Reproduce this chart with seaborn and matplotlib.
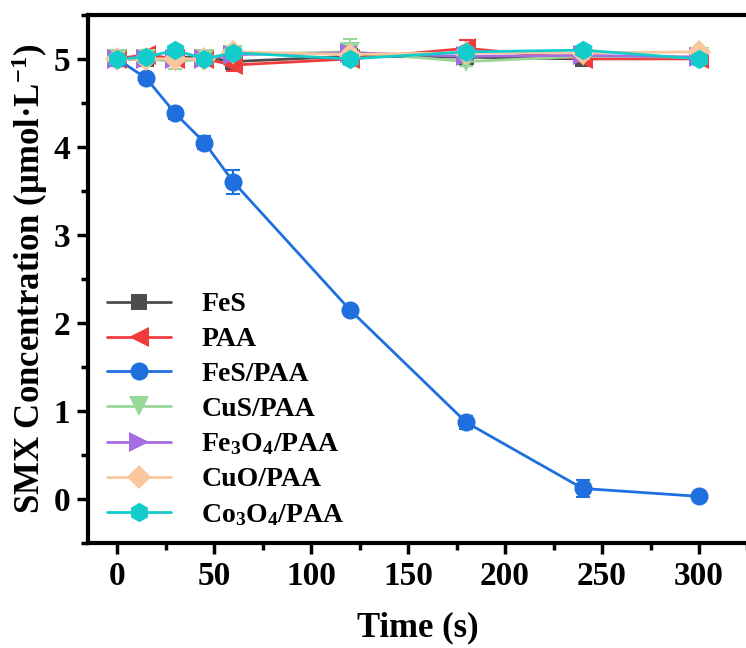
import numpy as np
import pandas as pd
import matplotlib
matplotlib.use("Agg")
import matplotlib.pyplot as plt
import seaborn as sns
from matplotlib.ticker import MultipleLocator

time = [0, 15, 30, 45, 60, 120, 180, 240, 300]
series_names = ["FeS", "PAA", "FeS/PAA", "CuS/PAA", "Fe$_3$O$_4$/PAA", "CuO/PAA", "Co$_3$O$_4$/PAA"]

fes = [5.00, 5.00, 5.02, 5.02, 4.97, 5.03, 5.02, 5.00, 5.02]
paa = [5.00, 5.05, 5.00, 5.00, 4.93, 5.00, 5.12, 5.00, 5.00]
fes_paa = [5.00, 4.78, 4.38, 4.05, 3.60, 2.15, 0.87, 0.12, 0.03]
cus_paa = [5.00, 5.00, 4.97, 5.00, 5.05, 5.08, 4.97, 5.03, 5.02]
fe3o4_paa = [5.00, 5.00, 5.00, 5.00, 5.05, 5.07, 5.03, 5.04, 5.02]
cuo_paa = [5.00, 5.00, 5.00, 5.00, 5.08, 5.05, 5.07, 5.07, 5.08]
co3o4_paa = [5.00, 5.02, 5.10, 5.00, 5.07, 5.00, 5.08, 5.10, 5.00]

fes_err = [0.02, 0.02, 0.03, 0.04, 0.06, 0.04, 0.03, 0.05, 0.03]
paa_err = [0.02, 0.04, 0.05, 0.03, 0.07, 0.03, 0.10, 0.03, 0.02]
fes_paa_err = [0.03, 0.05, 0.06, 0.07, 0.14, 0.03, 0.07, 0.10, 0.02]
cus_paa_err = [0.02, 0.04, 0.08, 0.04, 0.05, 0.15, 0.05, 0.03, 0.03]
fe3o4_paa_err = [0.02, 0.03, 0.05, 0.04, 0.05, 0.06, 0.04, 0.03, 0.03]
cuo_paa_err = [0.02, 0.03, 0.04, 0.03, 0.05, 0.05, 0.04, 0.03, 0.03]
co3o4_paa_err = [0.02, 0.04, 0.04, 0.03, 0.05, 0.05, 0.04, 0.03, 0.03]

values = [fes, paa, fes_paa, cus_paa, fe3o4_paa, cuo_paa, co3o4_paa]
errors = [fes_err, paa_err, fes_paa_err, cus_paa_err, fe3o4_paa_err, cuo_paa_err, co3o4_paa_err]

colors = ["#4d4d4d", "#f03c3c", "#1f6fdf", "#99d699", "#a56ee0", "#f9c79b", "#14cccc"]
markers = ["s", "<", "o", "v", ">", "D", "h"]
msizes = [12, 14, 13, 14, 14, 12, 14]

rows = []
for name, vals in zip(series_names, values):
    for t, v in zip(time, vals):
        rows.append({"Time": t, "Conc": v, "Series": name})
df = pd.DataFrame(rows)

sns.set_style("ticks")
plt.rcParams["font.family"] = ["Liberation Serif", "DejaVu Serif"]
plt.rcParams["mathtext.fontset"] = "custom"
plt.rcParams["mathtext.rm"] = "Liberation Serif:bold"
plt.rcParams["mathtext.it"] = "Liberation Serif:bold"
plt.rcParams["mathtext.bf"] = "Liberation Serif:bold"
plt.rcParams["font.weight"] = "bold"
plt.rcParams["text.color"] = "black"
plt.rcParams["axes.labelcolor"] = "black"

fig = plt.figure(figsize=(7.46, 6.48), dpi=100)
ax = fig.add_axes([0.118, 0.162, 0.884, 0.815])

for i, (name, vals, errs) in enumerate(zip(series_names, values, errors)):
    sub = df[df["Series"] == name]
    sns.lineplot(data=sub, x="Time", y="Conc", ax=ax, color=colors[i],
                 marker=markers[i], markersize=msizes[i], markeredgewidth=0,
                 linewidth=2, label=name, zorder=3 + i, errorbar=None)
    ax.errorbar(time, vals, yerr=errs, fmt="none", ecolor=colors[i],
                elinewidth=1.5, capsize=5, capthick=1.5, zorder=3 + i)

ax.set_xlim(-15, 325)
ax.set_ylim(-0.5, 5.5)
ax.xaxis.set_major_locator(MultipleLocator(50))
ax.xaxis.set_minor_locator(MultipleLocator(25))
ax.yaxis.set_major_locator(MultipleLocator(1))
ax.yaxis.set_minor_locator(MultipleLocator(0.5))
ax.tick_params(which="major", direction="out", length=8, width=2.5, labelsize=24,
               pad=5, colors="black")
ax.tick_params(which="minor", direction="out", length=5, width=2.5, colors="black")
for lab in ax.get_xticklabels() + ax.get_yticklabels():
    lab.set_fontweight("bold")
for s in ax.spines.values():
    s.set_linewidth(3)
    s.set_color("black")
    s.set_visible(True)

ax.set_xlabel("Time (s)", fontsize=25, fontweight="bold", labelpad=14)
ax.set_ylabel("SMX Concentration (μmol·L$^{-1}$)", fontsize=25, fontweight="bold", labelpad=2)

leg = ax.legend(loc="lower left", bbox_to_anchor=(0.012, 0.008), frameon=False,
                prop={"family": "Liberation Serif", "weight": "bold", "size": 20},
                handlelength=2.3, labelspacing=0.34, handletextpad=1.1,
                borderaxespad=0.0)

fig.savefig("out.png", dpi=100)
